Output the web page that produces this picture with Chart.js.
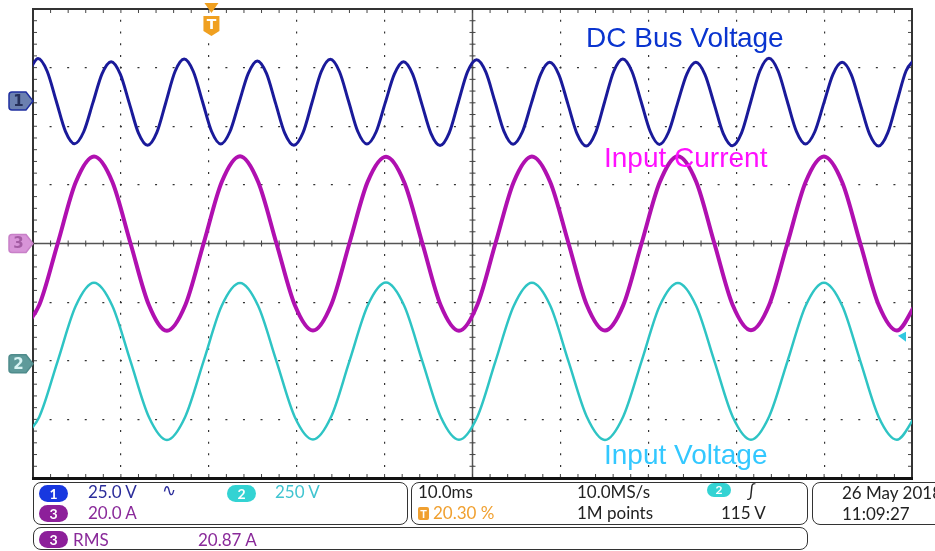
<!DOCTYPE html>
<html>
<head>
<meta charset="utf-8">
<title>Scope capture</title>
<script src="https://cdn.jsdelivr.net/npm/chart.js@4.4.0/dist/chart.umd.min.js"></script>
<style>
body { margin: 0; background: #fff; }
#wrap { position: relative; width: 935px; height: 551px; overflow: hidden; font-family: Lato, "DejaVu Sans", sans-serif; }
#scope { position: absolute; left: 0; top: 0; }
.note { position: absolute; font-family: "Liberation Sans", Arial, sans-serif; font-size: 28px; line-height: 1; white-space: nowrap; }
.box { position: absolute; border: 1.5px solid #333; border-radius: 8px; box-sizing: border-box; }
.t { position: absolute; font-size: 17px; line-height: 1; white-space: nowrap; color: #222; }
.pill { position: absolute; width: 29px; height: 17px; border-radius: 9px; color: #fff; font-size: 14px; font-weight: bold; text-align: center; line-height: 17px; }
</style>
</head>
<body>
<div id="wrap">
  <canvas id="scope" width="935" height="551"></canvas>

  <div class="note" style="left:586px; top:24px; color:#0a34cf;">DC Bus Voltage</div>
  <div class="note" style="left:604px; top:144px; color:#ff10ff;">Input Current</div>
  <div class="note" style="left:604px; top:441px; color:#33c8ff;">Input Voltage</div>

  <div class="box" style="left:33px; top:482px; width:375px; height:43px;"></div>
  <div class="box" style="left:411px; top:482px; width:397px; height:43px;"></div>
  <div class="box" style="left:812px; top:482px; width:140px; height:43px;"></div>
  <div class="box" style="left:33px; top:527px; width:775px; height:23px;"></div>

  <div class="pill" style="left:39px; top:485px; background:#1838e0;">1</div>
  <div class="t" style="left:88px; top:483px; color:#2b2d9b;">25.0 V</div>
  <div class="t" style="left:162px; top:481px; color:#2b2d9b;">∿</div>
  <div class="pill" style="left:227px; top:485px; background:#33d3d3;">2</div>
  <div class="t" style="left:275px; top:483px; color:#40c4d0;">250 V</div>
  <div class="pill" style="left:39px; top:505px; background:#8d1f9a;">3</div>
  <div class="t" style="left:88px; top:504px; color:#8a2a9a;">20.0 A</div>

  <div class="pill" style="left:39px; top:531px; background:#8d1f9a;">3</div>
  <div class="t" style="left:73px; top:531px; color:#8a2a9a;">RMS</div>
  <div class="t" style="left:198px; top:531px; color:#8a2a9a;">20.87 A</div>

  <div class="t" style="left:418px; top:483px;">10.0ms</div>
  <div class="pill" style="left:418px; top:507px; width:11px; height:13px; border-radius:2px; line-height:13px; font-size:11px; background:#f0a030;">T</div>
  <div class="t" style="left:433px; top:504px; color:#f0a030;">20.30 %</div>
  <div class="t" style="left:577px; top:483px;">10.0MS/s</div>
  <div class="t" style="left:577px; top:504px;">1M points</div>
  <div class="pill" style="left:707px; top:483px; width:24px; height:14px; line-height:14px; font-size:12px; background:#33d3d3;">2</div>
  <div class="t" style="left:747px; top:482px;">∫</div>
  <div class="t" style="left:721px; top:504px;">115 V</div>

  <div class="t" style="left:842px; top:484px;">26 May 2018</div>
  <div class="t" style="left:842px; top:505px;">11:09:27</div>
</div>

<script>
// Scope settings (per division) and channel offsets (divisions)
const ch1VoltsPerDiv = 25;
const ch2VoltsPerDiv = 250;
const ch3AmpsPerDiv = 20;
const ch1Offset = 2.43;
const ch2Offset = -2.05;
const ch3Offset = 0;
const triggerPosition = 20.3;   // % of record
const triggerLevel = 115;       // V on ch2

// Ch1: DC bus voltage ripple (AC coupled), time in ms
const busTime = [-0.47, 0.57, 1.61, 2.65, 3.69, 4.73, 5.77, 6.81, 7.85, 8.89, 9.93, 10.97, 12.00, 13.04, 14.08, 15.12,
  16.16, 17.20, 18.24, 19.28, 20.32, 21.36, 22.40, 23.44, 24.48, 25.52, 26.56, 27.60, 28.64, 29.68, 30.72, 31.76,
  32.79, 33.83, 34.87, 35.91, 36.95, 37.99, 39.03, 40.07, 41.11, 42.15, 43.19, 44.23, 45.27, 46.31, 47.35, 48.39,
  49.43, 50.47, 51.51, 52.55, 53.58, 54.62, 55.66, 56.70, 57.74, 58.78, 59.82, 60.86, 61.90, 62.94, 63.98, 65.02,
  66.06, 67.10, 68.14, 69.18, 70.22, 71.26, 72.30, 73.33, 74.37, 75.41, 76.45, 77.49, 78.53, 79.57, 80.61, 81.65,
  82.69, 83.73, 84.77, 85.81, 86.85, 87.89, 88.93, 89.97, 91.01, 92.05, 93.09, 94.12, 95.16, 96.20, 97.24, 98.28,
  99.32, 100.36];
const busRipple = [12.6,
  18.1, 12.7, -0.1, -12.9, -18.2, -13.1, -0.8, 11.6, 16.8, 11.5, -1.1, -13.7, -18.9, -13.5, -0.5, 12.6,
  17.9, 12.6, -0.2, -13.0, -18.3, -13.1, -0.7, 11.7, 17.1, 11.8, -1.0, -13.7, -18.9, -13.5, -0.4, 12.5,
  17.8, 12.5, -0.2, -13.0, -18.3, -13.2, -0.8, 11.5, 16.8, 11.5, -1.2, -13.8, -19.0, -13.6, -0.5, 12.4,
  17.6, 12.4, -0.2, -12.9, -18.4, -13.3, -0.9, 11.3, 16.5, 11.3, -1.3, -14.0, -19.2, -13.7, -0.5, 12.6,
  17.9, 12.6, -0.2, -13.0, -18.5, -13.3, -0.9, 11.4, 16.5, 11.3, -1.2, -13.9, -19.1, -13.6, -0.4, 12.8,
  18.2, 12.8, -0.1, -12.9, -18.3, -13.2, -0.9, 11.4, 16.5, 11.3, -1.3, -14.0, -19.2, -13.6, -0.3, 12.8,
  18.1];

// Ch3 input current and Ch2 input voltage share the line-frequency time base (ms)
const lineTime = [-1.36, 0.71, 2.79, 4.86, 6.94, 9.02, 11.09, 13.17, 15.24, 17.32, 19.40, 21.47, 23.55, 25.62,
  27.70, 29.78, 31.85, 33.93, 36.00, 38.08, 40.16, 42.23, 44.31, 46.38, 48.46, 50.54, 52.61, 54.69, 56.76, 58.84,
  60.92, 62.99, 65.07, 67.14, 69.22, 71.30, 73.37, 75.45, 77.52, 79.60, 81.68, 83.75, 85.83, 87.90, 89.98, 92.06,
  94.13, 96.21, 98.28, 100.36];
const inputCurrent = [
  -29.6, -21.0, -0.2, 20.9, 29.7, 21.1, 0.1, -20.9,
  -29.8, -21.1, -0.1, 21.0, 29.8, 21.0, 0.0, -21.0,
  -29.7, -20.9, 0.1, 21.1, 29.6, 20.9, -0.1, -21.1,
  -29.8, -21.0, 0.0, 21.0, 29.7, 21.0, 0.1, -20.9,
  -29.7, -21.1, -0.1, 20.9, 29.8, 21.1, 0.0, -21.0,
  -29.6, -21.0, 0.1, 21.0, 29.7, 20.9, -0.1, -21.0,
  -29.7, -21.0];
const inputVoltage = [
  -324, -227, 9, 246, 345, 247, 11, -226,
  -325, -226, 10, 247, 344, 246, 10, -227,
  -323, -225, 11, 248, 346, 247, 9, -226,
  -324, -227, 10, 246, 345, 248, 10, -225,
  -325, -226, 9, 247, 344, 246, 11, -226,
  -324, -225, 10, 247, 345, 247, 10, -227,
  -324, -226];

// convert a channel reading to screen divisions
function toDivs(times, values, perDiv, offset) {
    return times.map((t, i) => ({ x: t, y: values[i] / perDiv + offset }));
}

// frame, centre cross, channel tags and trigger marks
const scopeOverlay = {
    id: 'scopeOverlay',
    beforeDatasetsDraw(chart) {
        const { ctx, chartArea: a, scales: { x, y } } = chart;
        const cx = x.getPixelForValue(50), cy = y.getPixelForValue(0);
        const dx = (x.getPixelForValue(10) - x.getPixelForValue(0)) / 5;
        const dy = (y.getPixelForValue(0) - y.getPixelForValue(1)) / 5;
        ctx.save();
        ctx.strokeStyle = '#555';
        ctx.lineWidth = 1.5;
        ctx.beginPath();
        ctx.moveTo(a.left, cy); ctx.lineTo(a.right, cy);
        ctx.moveTo(cx, a.top); ctx.lineTo(cx, a.bottom);
        ctx.stroke();

        ctx.lineWidth = 1;
        ctx.strokeStyle = '#444';
        ctx.beginPath();
        for (let i = 1; i < 50; i++) {
            const px = a.left + i * dx;
            ctx.moveTo(px, cy - 3); ctx.lineTo(px, cy + 3);
            ctx.moveTo(px, a.top); ctx.lineTo(px, a.top + 4);
            ctx.moveTo(px, a.bottom - 4); ctx.lineTo(px, a.bottom);
        }
        for (let i = 1; i < 40; i++) {
            const py = a.top + i * dy;
            ctx.moveTo(cx - 3, py); ctx.lineTo(cx + 3, py);
            ctx.moveTo(a.left, py); ctx.lineTo(a.left + 4, py);
            ctx.moveTo(a.right - 4, py); ctx.lineTo(a.right, py);
        }
        ctx.stroke();

        ctx.strokeStyle = '#333';
        ctx.lineWidth = 2;
        ctx.strokeRect(a.left, a.top, a.width, a.height);
        ctx.fillStyle = '#111';
        ctx.fillRect(a.left - 1, a.bottom - 1, a.width + 2, 3);
        ctx.restore();
    },
    afterDatasetsDraw(chart) {
        const { ctx, chartArea: a, scales: { x, y } } = chart;
        ctx.save();
        drawTag(ctx, a.left, y.getPixelForValue(ch1Offset), '#6b80b0', '#1f2fa0', '1', '#26305a');
        drawTag(ctx, a.left, y.getPixelForValue(ch3Offset), '#d894d8', '#c880c8', '3', '#a45ca4');
        drawTag(ctx, a.left, y.getPixelForValue(ch2Offset), '#5e9a9a', '#4f8c8c', '2', '#d8f4f4');

        // trigger position marker
        const tx = x.getPixelForValue(triggerPosition);
        ctx.fillStyle = '#f0a020';
        ctx.beginPath();
        ctx.moveTo(tx - 7, 3); ctx.lineTo(tx + 7, 3); ctx.lineTo(tx, 13);
        ctx.closePath();
        ctx.fill();
        ctx.beginPath();
        ctx.moveTo(tx - 8, 16); ctx.lineTo(tx + 8, 16); ctx.lineTo(tx + 8, 31);
        ctx.lineTo(tx, 36); ctx.lineTo(tx - 8, 31);
        ctx.closePath();
        ctx.fill();
        ctx.fillStyle = '#fff';
        ctx.font = 'bold 14px "DejaVu Sans"';
        ctx.textAlign = 'center';
        ctx.textBaseline = 'middle';
        ctx.fillText('T', tx, 25);

        // trigger level marker (ch2)
        const ty = y.getPixelForValue(triggerLevel / ch2VoltsPerDiv + ch2Offset);
        ctx.fillStyle = '#30c8e0';
        ctx.beginPath();
        ctx.moveTo(a.right - 14, ty - 1); ctx.lineTo(a.right - 6, ty - 5); ctx.lineTo(a.right - 6, ty + 5);
        ctx.closePath();
        ctx.fill();
        ctx.restore();
    }
};

function drawTag(ctx, tip, yc, fill, stroke, label, labelColor) {
    const l = tip - 24, b = tip - 7, h = 9;
    ctx.beginPath();
    ctx.moveTo(l + 3, yc - h);
    ctx.lineTo(b, yc - h);
    ctx.lineTo(tip, yc);
    ctx.lineTo(b, yc + h);
    ctx.lineTo(l + 3, yc + h);
    ctx.quadraticCurveTo(l, yc + h, l, yc + h - 3);
    ctx.lineTo(l, yc - h + 3);
    ctx.quadraticCurveTo(l, yc - h, l + 3, yc - h);
    ctx.closePath();
    ctx.fillStyle = fill;
    ctx.fill();
    ctx.lineWidth = 1.5;
    ctx.strokeStyle = stroke;
    ctx.stroke();
    ctx.fillStyle = labelColor;
    ctx.font = 'bold 15px "DejaVu Sans"';
    ctx.textAlign = 'center';
    ctx.textBaseline = 'middle';
    ctx.fillText(label, (l + b) / 2 + 1, yc + 1);
}

const traceStyle = { pointRadius: 0, cubicInterpolationMode: 'monotone', clip: 0, fill: false };

new Chart(document.getElementById('scope'), {
    type: 'line',
    data: {
        datasets: [
            Object.assign({ label: 'Input Voltage', data: toDivs(lineTime, inputVoltage, ch2VoltsPerDiv, ch2Offset),
                borderColor: '#2ec4c4', borderWidth: 2.5 }, traceStyle),
            Object.assign({ label: 'Input Current', data: toDivs(lineTime, inputCurrent, ch3AmpsPerDiv, ch3Offset),
                borderColor: '#b010b0', borderWidth: 4 }, traceStyle),
            Object.assign({ label: 'DC Bus Voltage', data: toDivs(busTime, busRipple, ch1VoltsPerDiv, ch1Offset),
                borderColor: '#1a1a9a', borderWidth: 3 }, traceStyle)
        ]
    },
    options: {
        responsive: false,
        animation: false,
        layout: { padding: { left: 33, right: 23, top: 9, bottom: 73 } },
        plugins: { legend: { display: false }, tooltip: { enabled: false } },
        scales: {
            x: {
                type: 'linear', min: 0, max: 100,
                ticks: { display: false, stepSize: 10 },
                grid: { color: '#333', lineWidth: 1.2, drawTicks: false },
                border: { display: false, dash: [2, 9.72], dashOffset: 1 }
            },
            y: {
                type: 'linear', min: -4, max: 4,
                ticks: { display: false, stepSize: 1 },
                grid: { color: '#333', lineWidth: 1.2, drawTicks: false },
                border: { display: false, dash: [2, 15.58], dashOffset: 1 }
            }
        }
    },
    plugins: [scopeOverlay]
});
</script>
</body>
</html>
